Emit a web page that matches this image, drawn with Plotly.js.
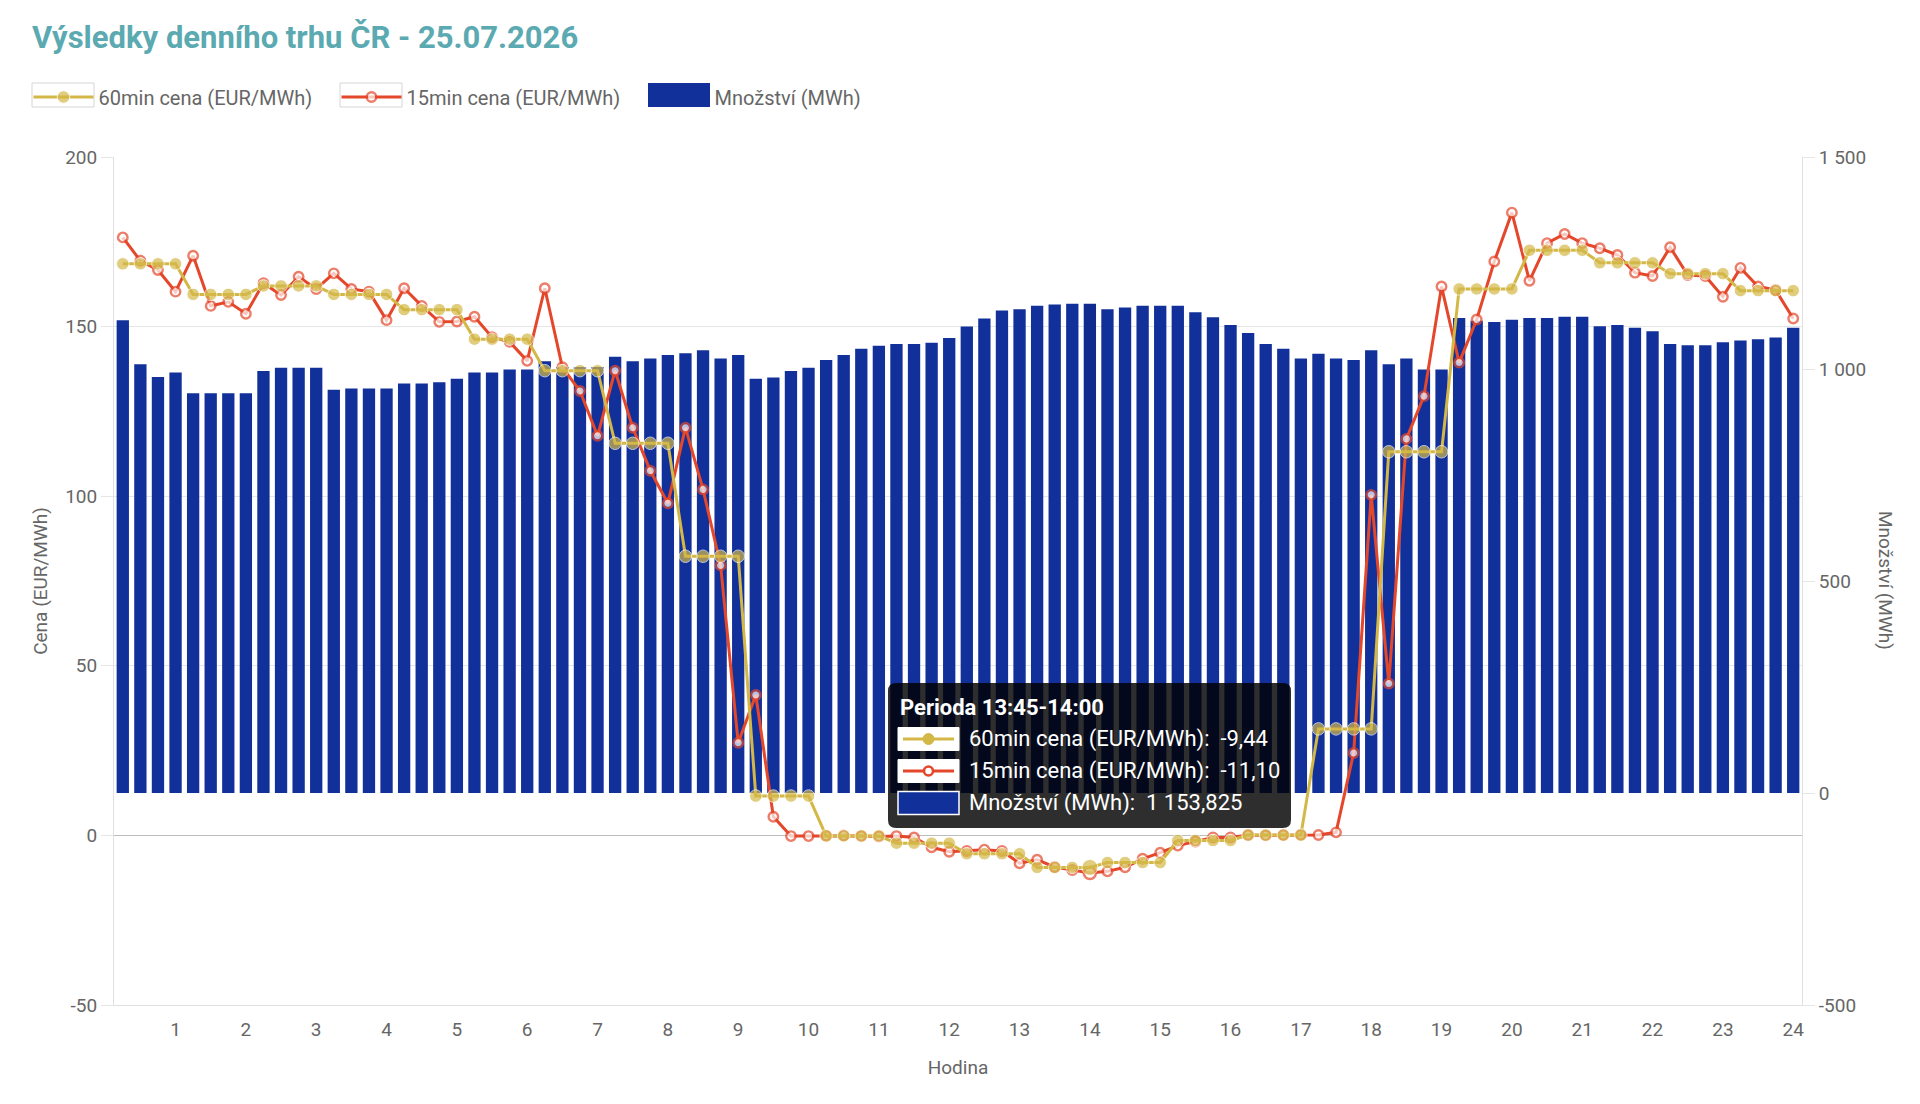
<!DOCTYPE html>
<html lang="cs">
<head>
<meta charset="utf-8">
<title>Výsledky denního trhu ČR</title>
<script src="https://cdn.plot.ly/plotly-3.0.1.min.js"></script>
<style>
  html, body { margin: 0; padding: 0; background: #fff; }
  #chart { width: 1920px; height: 1104px; }
</style>
</head>
<body>
<div id="chart"></div>
<script>
// Denní trh ČR, 25.07.2026 - 15min periody, hodinová a čtvrthodinová cena + množství

// 60min cena (EUR/MWh), jedna hodnota na hodinu
const price_60 = [
    168.5, 159.5, 162.0, 159.5, 155.0, 146.3, 137.0, 115.6, 82.3, 11.6, -0.15, -2.3,
    -5.4, -9.44, -8.0, -1.5, 0.1, 31.4, 113.1, 161.1, 172.5, 168.8, 165.6, 160.6
];

// 15min cena (EUR/MWh)
const price_15 = [
    176.3, 169.4, 166.7, 160.3, 170.9, 156.1, 157.3, 153.8,
    162.8, 159.3, 164.7, 161.1, 165.7, 161.1, 160.3, 151.9,
    161.3, 156.1, 151.4, 151.5, 152.9, 146.9, 145.5, 139.9,
    161.3, 138.0, 131.0, 117.8, 137.0, 120.2, 107.5, 97.9,
    120.2, 102.0, 79.6, 27.3, 41.4, 5.5, -0.2, -0.2,
    -0.1, 0.0, -0.2, -0.3, -0.2, -0.6, -3.5, -4.8,
    -4.6, -4.2, -4.6, -8.2, -7.2, -9.3, -10.2, -11.10,
    -10.6, -9.4, -6.9, -5.1, -3.0, -1.8, -0.6, -0.6,
    0.1, 0.0, 0.1, 0.2, 0.1, 0.9, 24.3, 100.4,
    44.8, 116.9, 129.5, 161.8, 139.4, 152.1, 169.2, 183.6,
    163.5, 174.6, 177.3, 174.6, 173.1, 171.1, 165.9, 164.9,
    173.4, 165.2, 164.9, 158.8, 167.3, 161.8, 160.8, 152.4
];

// Množství (MWh)
const volume = [
    1115, 1011, 981, 992, 943, 943, 943, 943,
    995, 1003, 1003, 1003, 951, 954, 954, 954,
    966, 966, 969, 977, 992, 992, 999, 999,
    1018, 1005, 1005, 1005, 1029, 1018, 1025, 1033,
    1037, 1044, 1025, 1033, 977, 980, 995, 1003,
    1021, 1033, 1048, 1055, 1059, 1059, 1062, 1073,
    1100, 1119, 1138, 1141, 1149, 1152, 1154, 1153.825,
    1141, 1145, 1149, 1149, 1149, 1134, 1122, 1104,
    1085, 1059, 1048, 1025, 1036, 1025, 1021, 1044,
    1011, 1025, 999, 999, 1120, 1114, 1111, 1116,
    1120, 1120, 1123, 1123, 1101, 1104, 1097, 1089,
    1059, 1056, 1056, 1063, 1067, 1070, 1074, 1097
];

const hour_labels = ['1', '2', '3', '4', '5', '6', '7', '8', '9', '10', '11', '12',
    '13', '14', '15', '16', '17', '18', '19', '20', '21', '22', '23', '24'];

const price_ticks = [-50, 0, 50, 100, 150, 200];
const price_tick_labels = ['-50', '0', '50', '100', '150', '200'];
const volume_ticks = [-500, 0, 500, 1000, 1500];
const volume_tick_labels = ['-500', '0', '500', '1 000', '1 500'];

// perioda, na kterou ukazuje tooltip (13:45-14:00)
const hover_idx = 55;

const GOLD = '#d4b847';
const RED = '#e5472b';
const BLUE = '#12309a';
const BLUE_HOVER = '#0f2b8e';
const GREY = '#666666';
const FONT = 'Roboto, sans-serif';

const pad2 = n => String(n).padStart(2, '0');
const periods = [];
for (let i = 0; i < price_15.length; i++) {
    const a = i * 15, b = a + 15;
    periods.push(`${pad2(Math.floor(a / 60))}:${pad2(a % 60)}-${pad2(Math.floor(b / 60))}:${pad2(b % 60)}`);
}
// popisek hodiny stojí u poslední čtvrthodiny
const hour_ticks = periods.filter((p, i) => i % 4 === 3);

// hodinová cena platí pro všechny čtyři čtvrthodiny
const price_60_q = price_60.flatMap(v => [v, v, v, v]);

const fmt_cz = function (v, digits) {
    const [int_part, dec_part] = Math.abs(v).toFixed(digits).split('.');
    const grouped = int_part.replace(/\B(?=(\d{3})+(?!\d))/g, ' ');
    return (v < 0 ? '-' : '') + grouped + (dec_part ? ',' + dec_part : '');
};

const sizes = (base, big) => periods.map((p, i) => i === hover_idx ? big : base);

const trace_15 = {
    name: '15min cena (EUR/MWh)',
    x: periods,
    y: price_15,
    yaxis: 'y2',
    type: 'scatter',
    mode: 'lines+markers',
    line: { color: RED, width: 3 },
    marker: { size: sizes(9.5, 12), color: '#ffffff', line: { color: RED, width: 2.4 } },
    legendrank: 2,
    hoverinfo: 'skip'
};

const trace_60 = {
    name: '60min cena (EUR/MWh)',
    x: periods,
    y: price_60_q,
    yaxis: 'y2',
    type: 'scatter',
    mode: 'lines+markers',
    line: { color: GOLD, width: 3 },
    marker: { size: sizes(12.5, 16), color: GOLD },
    legendrank: 1,
    hoverinfo: 'skip'
};

const trace_vol = {
    name: 'Množství (MWh)',
    x: periods,
    y: volume,
    yaxis: 'y',
    type: 'bar',
    marker: {
        color: periods.map((p, i) => i === hover_idx ? BLUE_HOVER : BLUE),
        line: { width: 0 }
    },
    legendrank: 3,
    hoverinfo: 'skip'
};

// pixel -> paper souřadnice (plocha grafu 114..1802 x 157..1005)
const PL = 114, PR = 1802, PT = 157, PB = 1005;
const px = X => (X - PL) / (PR - PL);
const py = Y => (PB - Y) / (PB - PT);

const rect = (x0, x1, y0, y1, fill, line, layer) => ({
    type: 'rect', xref: 'paper', yref: 'paper', layer: layer || 'above',
    x0: px(x0), x1: px(x1), y0: py(y1), y1: py(y0),
    fillcolor: fill, line: line
});

const shapes = [];

// rámečky symbolů legendy (jako v Chart.js), legenda má průhledné pozadí
const legend_y0 = 83, legend_y1 = 107;
shapes.push(rect(32, 94, legend_y0, legend_y1, '#ffffff', { color: '#d6d6d6', width: 1 }, 'below'));
shapes.push(rect(340, 402, legend_y0, legend_y1, '#ffffff', { color: '#d6d6d6', width: 1 }, 'below'));
shapes.push(rect(648, 710, legend_y0, legend_y1, BLUE, { width: 0 }, 'below'));

// tooltip nakreslený jako tvary a popisky
const tip = { x0: 888, x1: 1291, y0: 683, y1: 828, r: 8 };
const rounded_rect = function (b) {
    const rx = b.r / (PR - PL), ry = b.r / (PB - PT);
    const L = px(b.x0), R = px(b.x1), T = py(b.y0), B = py(b.y1);
    return `M ${L + rx},${T} L ${R - rx},${T} Q ${R},${T} ${R},${T - ry} ` +
        `L ${R},${B + ry} Q ${R},${B} ${R - rx},${B} L ${L + rx},${B} ` +
        `Q ${L},${B} ${L},${B + ry} L ${L},${T - ry} Q ${L},${T} ${L + rx},${T} Z`;
};
shapes.push({ type: 'path', path: rounded_rect(tip), xref: 'paper', yref: 'paper',
    fillcolor: 'rgba(0,0,0,0.82)', line: { width: 0 }, layer: 'above' });

const rows_y = [739, 771, 803];
const sw = { x0: 898, x1: 959, h: 23, cx: 928.5 };
const dot = (cy, r, fill, color, width) => ({
    type: 'circle', xref: 'paper', yref: 'paper', layer: 'above',
    x0: px(sw.cx - r), x1: px(sw.cx + r), y0: py(cy + r), y1: py(cy - r),
    fillcolor: fill, line: { color: color, width: width }
});
const hline = (cy, color) => ({
    type: 'line', xref: 'paper', yref: 'paper', layer: 'above',
    x0: px(sw.x0 + 5), x1: px(sw.x1 - 5), y0: py(cy), y1: py(cy),
    line: { color: color, width: 3 }
});
// swatch 60min
shapes.push(rect(sw.x0, sw.x1, rows_y[0] - sw.h / 2, rows_y[0] + sw.h / 2, '#ffffff', { color: '#ffffff', width: 1 }));
shapes.push(hline(rows_y[0], GOLD));
shapes.push(dot(rows_y[0], 5.5, GOLD, GOLD, 1));
// swatch 15min
shapes.push(rect(sw.x0, sw.x1, rows_y[1] - sw.h / 2, rows_y[1] + sw.h / 2, '#ffffff', { color: '#ffffff', width: 1 }));
shapes.push(hline(rows_y[1], RED));
shapes.push(dot(rows_y[1], 4.5, '#ffffff', RED, 2.6));
// swatch množství
shapes.push(rect(sw.x0, sw.x1, rows_y[2] - sw.h / 2, rows_y[2] + sw.h / 2, BLUE, { color: '#ffffff', width: 1.5 }));

const tip_text = [
    `60min cena (EUR/MWh):\u00a0\u00a0${fmt_cz(price_60_q[hover_idx], 2)}`,
    `15min cena (EUR/MWh):\u00a0\u00a0${fmt_cz(price_15[hover_idx], 2)}`,
    `Množství (MWh):\u00a0\u00a0${fmt_cz(volume[hover_idx], 3)}`
];

const annotations = [
    { text: `<b>Perioda ${periods[hover_idx]}</b>`, xref: 'paper', yref: 'paper',
      x: px(898), y: py(707), xanchor: 'left', yanchor: 'middle', showarrow: false,
      font: { family: FONT, size: 22, color: '#ffffff' } },
    { text: 'Množství (MWh)', xref: 'paper', yref: 'paper', x: px(1886), y: 0.5,
      xanchor: 'center', yanchor: 'middle', textangle: 90, showarrow: false,
      font: { family: FONT, size: 19, color: GREY } }
];
tip_text.forEach((t, i) => {
    annotations.push({ text: t, xref: 'paper', yref: 'paper', x: px(967), y: py(rows_y[i]),
        xanchor: 'left', yanchor: 'middle', showarrow: false,
        font: { family: FONT, size: 22, color: '#ffffff' } });
});

const layout = {
    width: 1920,
    height: 1104,
    margin: { l: PL, r: 1920 - PR, t: PT, b: 1104 - PB },
    paper_bgcolor: '#ffffff',
    plot_bgcolor: '#ffffff',
    font: { family: FONT, size: 19, color: GREY },
    title: {
        text: 'Výsledky denního trhu ČR - 25.07.2026',
        font: { family: FONT, size: 31, color: '#5ba9b1', weight: 700 },
        xref: 'container', yref: 'container',
        x: 32 / 1920, xanchor: 'left',
        y: 1 - 37 / 1104, yanchor: 'middle'
    },
    showlegend: true,
    legend: {
        orientation: 'h',
        x: px(28.5), xanchor: 'left',
        y: py(97), yanchor: 'middle',
        bgcolor: 'rgba(0,0,0,0)',
        font: { family: FONT, size: 20, color: GREY },
        itemwidth: 60,
        entrywidth: 233,
        entrywidthmode: 'pixels',
        traceorder: 'normal'
    },
    bargap: 0.3,
    xaxis: {
        type: 'category',
        range: [-0.5, periods.length - 0.5],
        tickmode: 'array',
        tickvals: hour_ticks,
        ticktext: hour_labels,
        showgrid: false,
        zeroline: false,
        showline: true,
        linecolor: '#e0e0e0',
        ticks: '',
        ticklabelstandoff: 7,
        tickfont: { size: 19, color: GREY },
        title: { text: 'Hodina', standoff: 20, font: { size: 19, color: GREY } }
    },
    yaxis: {
        side: 'right',
        range: [-500, 1500],
        tickmode: 'array',
        tickvals: volume_ticks,
        ticktext: volume_tick_labels,
        showgrid: false,
        zeroline: false,
        showline: true,
        linecolor: '#e0e0e0',
        ticks: 'outside',
        ticklen: 12,
        tickcolor: '#e6e6e6',
        tickfont: { size: 19, color: GREY }
    },
    yaxis2: {
        overlaying: 'y',
        side: 'left',
        range: [-50, 200],
        tickmode: 'array',
        tickvals: price_ticks,
        ticktext: price_tick_labels,
        showgrid: true,
        gridcolor: '#e6e6e6',
        zeroline: true,
        zerolinecolor: '#bdbdbd',
        zerolinewidth: 1.2,
        showline: true,
        linecolor: '#e0e0e0',
        ticks: 'outside',
        ticklen: 12,
        tickcolor: '#e6e6e6',
        tickfont: { size: 19, color: GREY },
        title: { text: 'Cena (EUR/MWh)', standoff: 12, font: { size: 19, color: GREY } }
    },
    shapes: shapes,
    annotations: annotations
};

const config = { responsive: false, displaylogo: false, displayModeBar: false };

// zlatá čára nad červenou, legenda drží pořadí přes legendrank
Plotly.newPlot('chart', [trace_vol, trace_15, trace_60], layout, config);
</script>
</body>
</html>
